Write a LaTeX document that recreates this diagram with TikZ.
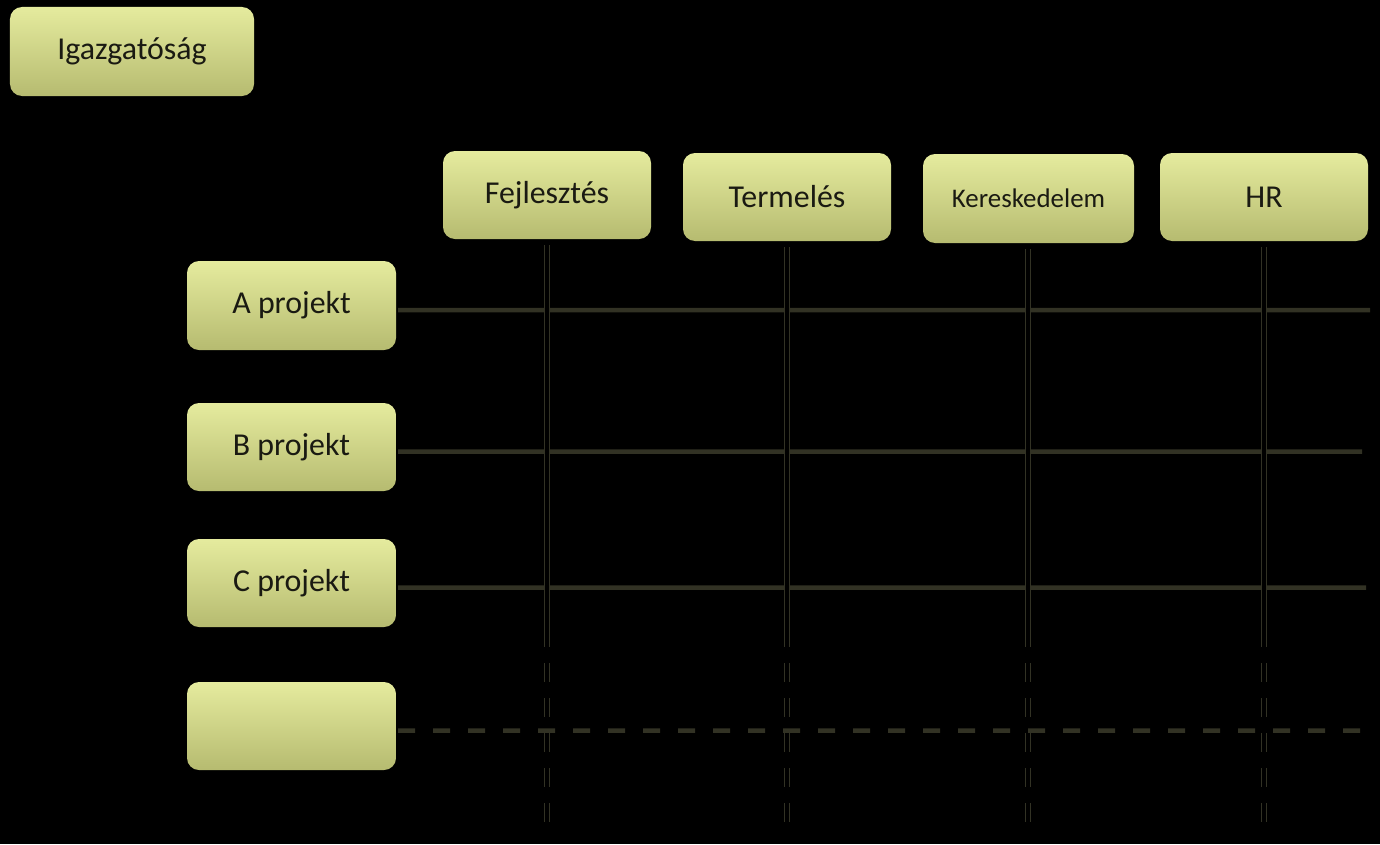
\documentclass[tikz,border=0pt]{standalone}
\usepackage{fontspec}
\setmainfont{Carlito}
\usetikzlibrary{positioning}
\definecolor{boxtop}{RGB}{229,235,158}
\definecolor{boxbot}{RGB}{182,187,112}
\definecolor{linkolive}{RGB}{50,50,36}
\definecolor{labeltext}{RGB}{26,26,18}
\tikzset{
  unit/.style={rounded corners=12bp,top color=boxtop,bottom color=boxbot,
    minimum width=208bp,minimum height=88bp,inner sep=0pt,text=labeltext,
    font=\fontsize{32}{38}\selectfont},
  projline/.style={draw=linkolive,line width=4.5bp},
  projdash/.style={projline,dash pattern=on 17bp off 18bp},
  deptline/.style={draw=linkolive,line width=1.3bp,double=black,double distance=4bp},
  deptdash/.style={deptline,dash pattern=on 19bp off 16bp}
}
\begin{document}
\begin{tikzpicture}[x=1bp,y=-1bp]

    % -- Background and fixed page size --
    \fill[black] (0,0) rectangle (1380,844);
    \useasboundingbox (0,0) rectangle (1380,844);

    % Ends of the lines
    \def\xend{1366}   % right end of the project lines
    \def\ysolid{647}  % where the department lines turn dashed
    \def\ydash{663}   % first dash of the department lines
    \def\yend{822}    % lower end of the department lines

    % -- Top of the hierarchy --
    \node[unit,minimum width=244bp,minimum height=89bp] (board) at (132,51.5) {Igazgatóság};

    % -- Departments (columns) --
    \node[unit] (dev) at (547,195) {Fejlesztés};
    \node[unit] (prod) at (787,197) {Termelés};
    \node[unit,minimum width=211bp,minimum height=89bp,font=\fontsize{27}{32}\selectfont]
      (sales) at (1028.5,198.5) {Kereskedelem};
    \node[unit] (hr) at (1264,197) {HR};

    % -- Projects (rows) --
    \node[unit,minimum width=209bp,minimum height=89bp] (pa) at (291.5,305.5) {A projekt};
    \node[unit,minimum width=209bp] (pb) at (291.5,447) {B projekt};
    \node[unit,minimum width=209bp] (pc) at (291.5,583) {C projekt};
    \node[unit,minimum width=209bp] (pnext) at (291.5,726) {};

    % -- End points of the row lines --
    \coordinate (paEnd) at (1370,310);
    \coordinate (pbEnd) at (1362,451.5);
    \coordinate (pcEnd) at (\xend,587.5);
    \coordinate (pnextEnd) at (\xend,730.5);

    % -- Row lines (projects) --
    \draw[projline] ([shift={(2bp,-4.5bp)}]pa.east) -- (paEnd);
    \draw[projline] ([shift={(2bp,-4.5bp)}]pb.east) -- (pbEnd);
    \draw[projline] ([shift={(2bp,-4.5bp)}]pc.east) -- (pcEnd);
    \draw[projdash] ([shift={(2bp,-4.5bp)}]pnext.east) -- (pnextEnd);

    % -- Column lines (departments), solid part then dashed part --
    \coordinate (devMid) at (547,\ysolid);
    \coordinate (prodMid) at (787,\ysolid);
    \coordinate (salesMid) at (1028,\ysolid);
    \coordinate (hrMid) at (1264,\ysolid);

    \draw[deptline] ([yshift=-6bp]dev.south) -- (devMid);
    \draw[deptline] ([yshift=-6bp]prod.south) -- (prodMid);
    \draw[deptline] ([yshift=-6bp]sales.south -| salesMid) -- (salesMid);
    \draw[deptline] ([yshift=-6bp]hr.south) -- (hrMid);

    \draw[deptdash] (547,\ydash) -- (547,\yend);
    \draw[deptdash] (787,\ydash) -- (787,\yend);
    \draw[deptdash] (1028,\ydash) -- (1028,\yend);
    \draw[deptdash] (1264,\ydash) -- (1264,835);

\end{tikzpicture}
\end{document}
